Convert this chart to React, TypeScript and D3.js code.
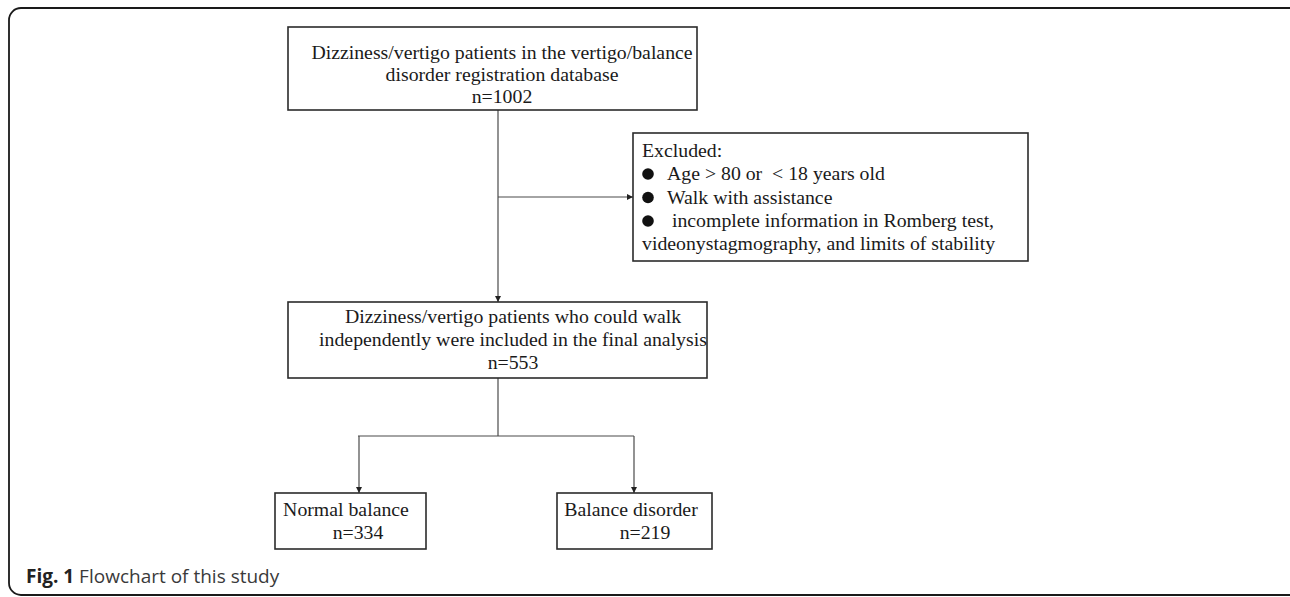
import { useEffect, useRef } from 'react';
import * as d3 from 'd3';

// box texts
const topLines = ['Dizziness/vertigo patients in the vertigo/balance', 'disorder registration database', 'n=1002'];
const excludedTitle = 'Excluded:';
const excludedItems = ['Age > 80 or  < 18 years old', 'Walk with assistance', ' incomplete information in Romberg test,'];
const excludedTail = 'videonystagmography, and limits of stability';
const includedLines = ['Dizziness/vertigo patients who could walk', 'independently were included in the final analysis', 'n=553'];
const groupNames = ['Normal balance', 'Balance disorder'];
const groupCounts = ['n=334', 'n=219'];
const captionLabel = 'Fig. 1';
const captionText = 'Flowchart of this study';

export default function App() {
  const svgRef = useRef<SVGSVGElement>(null);

  useEffect(() => {
    if (!svgRef.current) return;
    const svg = d3.select(svgRef.current);
    svg.selectAll('*').remove();

    const serif = '"Liberation Serif", "Times New Roman", serif';
    const boxStroke = '#2b2b2b';
    const lineStroke = '#4a4a4a';

    const defs = svg.append('defs');
    defs.append('marker')
      .attr('id', 'arrow')
      .attr('viewBox', '0 0 10 10')
      .attr('refX', 10).attr('refY', 5)
      .attr('markerWidth', 6).attr('markerHeight', 6)
      .attr('markerUnits', 'userSpaceOnUse')
      .attr('orient', 'auto')
      .append('path')
      .attr('d', 'M0,0 L10,5 L0,10 Z')
      .attr('fill', '#222');

    // outer frame
    svg.append('rect')
      .attr('x', 9).attr('y', 8)
      .attr('width', 1300).attr('height', 587)
      .attr('rx', 12)
      .attr('fill', 'none')
      .attr('stroke', '#1a1a1a')
      .attr('stroke-width', 1.8);

    const box = (x: number, y: number, w: number, h: number) =>
      svg.append('rect')
        .attr('x', x).attr('y', y)
        .attr('width', w).attr('height', h)
        .attr('fill', '#fff')
        .attr('stroke', boxStroke)
        .attr('stroke-width', 1.6);

    const text = (s: string, x: number, y: number, anchor = 'middle') =>
      svg.append('text')
        .attr('x', x).attr('y', y)
        .attr('text-anchor', anchor)
        .attr('font-family', serif)
        .attr('font-size', 19.8)
        .attr('fill', '#1a1a1a')
        .style('white-space', 'pre')
        .text(s);

    const line = d3.line<[number, number]>();
    const connector = (pts: [number, number][], arrow: boolean) =>
      svg.append('path')
        .attr('d', line(pts))
        .attr('fill', 'none')
        .attr('stroke', lineStroke)
        .attr('stroke-width', 1.2)
        .attr('marker-end', arrow ? 'url(#arrow)' : null);

    // connectors
    const trunkX = 498;
    connector([[trunkX, 110], [trunkX, 302]], true);
    connector([[trunkX, 197], [633, 197]], true);
    connector([[trunkX, 378], [trunkX, 436]], false);
    connector([[358, 436], [634, 436]], false);
    connector([[359, 436], [359, 493]], true);
    connector([[634, 436], [634, 493]], true);

    // top box
    box(288, 27, 409, 83);
    const topBase = d3.scaleLinear().domain([0, 2]).range([59, 103]);
    topLines.forEach((s, i) => text(s, 502, topBase(i)));

    // excluded box
    box(633, 133, 395, 128);
    text(excludedTitle, 642, 157, 'start');
    const exBase = d3.scaleLinear().domain([0, 2]).range([180, 227]);
    excludedItems.forEach((s, i) => {
      svg.append('circle')
        .attr('cx', 648).attr('cy', exBase(i) - 6)
        .attr('r', 5.8)
        .attr('fill', '#111');
      text(s, 667, exBase(i), 'start');
    });
    text(excludedTail, 642, 250, 'start');

    // included box
    box(288, 302, 419, 76);
    const inBase = d3.scaleLinear().domain([0, 2]).range([323, 369]);
    includedLines.forEach((s, i) => text(s, 513, inBase(i)));

    // outcome boxes
    const groupBoxes = [
      { x: 275, w: 151, cx: 346, nx: 358 },
      { x: 557, w: 155, cx: 631, nx: 645 },
    ];
    groupBoxes.forEach((b, i) => {
      box(b.x, 493, b.w, 56);
      text(groupNames[i], b.cx, 516);
      text(groupCounts[i], b.nx, 539);
    });

    // caption
    const cap = svg.append('text')
      .attr('x', 26).attr('y', 583)
      .attr('font-family', '"Open Sans", "Noto Sans", sans-serif')
      .attr('font-size', 19);
    cap.append('tspan')
      .attr('font-weight', 700)
      .attr('fill', '#222')
      .text(captionLabel);
    cap.append('tspan')
      .attr('fill', '#3a3a3a')
      .text(' ' + captionText);
  }, []);

  return (
    <svg
      ref={svgRef}
      width={1290}
      height={597}
      style={{ position: 'absolute', left: 0, top: 0, background: '#fff' }}
    />
  );
}
